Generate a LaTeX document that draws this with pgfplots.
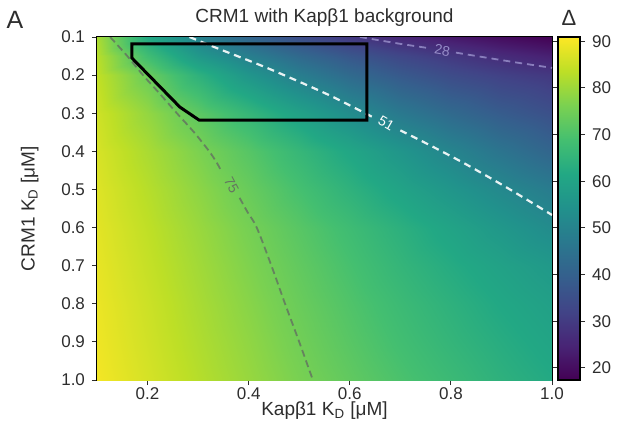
\documentclass[border=0pt]{standalone}
\usepackage{fontspec}
\setmainfont{Liberation Sans}
\usepackage{pgfplots}
\pgfplotsset{compat=1.18}
\pgfplotsset{/pgf/number format/assume math mode=true}
\definecolor{txt}{RGB}{45,45,45}
\definecolor{c75}{RGB}{100,118,96}
\definecolor{c28}{RGB}{150,140,200}
\begin{document}
\begin{tikzpicture}
\useasboundingbox (-48.5pt,-27pt) rectangle (264.5pt,190pt);
\begin{axis}[
  at={(0pt,0pt)}, anchor=south west,
  scale only axis, width=227.5pt, height=171.5pt,
  xmin=0.1, xmax=1.0, ymin=0.1, ymax=1.0,
  y dir=reverse,
  axis line style={black, line width=0.6pt},
  xtick={0.2,0.4,0.6,0.8,1.0},
  ytick={0.1,0.2,0.3,0.4,0.5,0.6,0.7,0.8,0.9,1.0},
  xtick pos=bottom, ytick pos=left,
  tick align=outside, major tick length=2.5pt,
  tick style={txt, line width=0.5pt},
  xticklabel shift=-2pt,
  xticklabel style={font=\fontsize{8.5}{10}\selectfont, text=txt, /pgf/number format/.cd, fixed, fixed zerofill, precision=1},
  yticklabel style={font=\fontsize{8.5}{10}\selectfont, text=txt, /pgf/number format/.cd, fixed, fixed zerofill, precision=1},
  xlabel={Kapβ1 K\textsubscript{D} [μM]},
  ylabel={CRM1 K\textsubscript{D} [μM]},
  label style={font=\fontsize{9.5}{11}\selectfont, text=txt},
  xlabel style={yshift=6pt},
  ylabel style={yshift=4.5pt},
  title={CRM1 with Kapβ1 background},
  title style={font=\fontsize{9.5}{11}\selectfont, text=txt, yshift=-4pt},
  colormap={myviridis}{rgb255=(68,1,84) rgb255=(72,36,117) rgb255=(65,68,135) rgb255=(53,95,141) rgb255=(42,120,142) rgb255=(33,145,140) rgb255=(34,168,132) rgb255=(68,191,112) rgb255=(122,209,81) rgb255=(189,223,38) rgb255=(253,231,37)},
  point meta min=17.4, point meta max=90.9,
  colorbar,
  colorbar style={
    at={(parent axis.north east)}, anchor=north west, xshift=-5.5pt,
    scale only axis, width=11pt, height=171.5pt,
    ytick={20,30,40,50,60,70,80,90},
    yticklabel style={font=\fontsize{8.5}{10}\selectfont, text=txt},
    tick align=outside, major tick length=2.5pt,
    tick style={txt, line width=0.5pt},
    axis line style={black, line width=0.6pt},
    title={Δ}, title style={font=\fontsize{11}{12}\selectfont, text=txt, yshift=-4pt},
  },
]
\addplot[surf, shader=interp, mesh/cols=10, point meta=\thisrow{z}] table[x=x, y=y] {
x y z
0.1 0.1 81.5
0.2 0.1 61.5
0.3 0.1 49.7
0.4 0.1 41.3
0.5 0.1 34.8
0.6 0.1 29.5
0.7 0.1 25.5
0.8 0.1 22.5
0.9 0.1 19.8
1.0 0.1 17.5
0.1 0.15 83.0
0.2 0.15 68.0
0.3 0.15 56.5
0.4 0.15 48.8
0.5 0.15 42.5
0.6 0.15 37.2
0.7 0.15 33.0
0.8 0.15 29.5
0.9 0.15 26.5
1.0 0.15 24.0
0.1 0.2 84.0
0.2 0.2 74.1
0.3 0.2 64.3
0.4 0.2 55.5
0.5 0.2 48.5
0.6 0.2 42.7
0.7 0.2 38.0
0.8 0.2 34.2
0.9 0.2 31.5
1.0 0.2 29.4
0.1 0.3 85.5
0.2 0.3 78.9
0.3 0.3 72.3
0.4 0.3 65.8
0.5 0.3 59.3
0.6 0.3 52.8
0.7 0.3 47.0
0.8 0.3 42.5
0.9 0.3 38.6
1.0 0.3 35.3
0.1 0.4 86.5
0.2 0.4 81.4
0.3 0.4 76.4
0.4 0.4 71.3
0.5 0.4 66.0
0.6 0.4 60.8
0.7 0.4 55.6
0.8 0.4 50.4
0.9 0.4 45.6
1.0 0.4 41.2
0.1 0.5 87.3
0.2 0.5 82.8
0.3 0.5 78.3
0.4 0.5 73.7
0.5 0.5 69.0
0.6 0.5 64.4
0.7 0.5 59.9
0.8 0.5 55.6
0.9 0.5 51.6
1.0 0.5 47.8
0.1 0.6 87.9
0.2 0.6 83.8
0.3 0.6 79.7
0.4 0.6 75.6
0.5 0.6 71.6
0.6 0.6 67.7
0.7 0.6 63.9
0.8 0.6 60.0
0.9 0.6 56.2
1.0 0.6 52.5
0.1 0.7 88.4
0.2 0.7 84.5
0.3 0.7 80.6
0.4 0.7 76.7
0.5 0.7 72.9
0.6 0.7 69.2
0.7 0.7 65.6
0.8 0.7 62.4
0.9 0.7 59.4
1.0 0.7 56.6
0.1 0.8 88.9
0.2 0.8 85.2
0.3 0.8 81.4
0.4 0.8 77.7
0.5 0.8 74.0
0.6 0.8 70.5
0.7 0.8 67.2
0.8 0.8 64.2
0.9 0.8 61.3
1.0 0.8 58.8
0.1 0.9 89.3
0.2 0.9 85.7
0.3 0.9 82.1
0.4 0.9 78.6
0.5 0.9 75.0
0.6 0.9 71.6
0.7 0.9 68.4
0.8 0.9 65.5
0.9 0.9 62.8
1.0 0.9 60.3
0.1 1.0 89.8
0.2 1.0 86.3
0.3 1.0 82.8
0.4 1.0 79.4
0.5 1.0 76.0
0.6 1.0 72.8
0.7 1.0 69.8
0.8 1.0 67.0
0.9 1.0 64.2
1.0 1.0 61.8
};
% contour 75
\addplot[c75, opacity=0.85, line width=0.9pt, dash pattern=on 3.5pt off 2pt, smooth, tension=0.5] coordinates {
(0.126,0.1) (0.160,0.15) (0.191,0.2) (0.225,0.25) (0.258,0.3) (0.292,0.35) (0.322,0.4) (0.337,0.43) (0.346,0.452)};
\addplot[c75, opacity=0.85, line width=0.9pt, dash pattern=on 3.5pt off 2pt, smooth, tension=0.5] coordinates {
(0.382,0.522) (0.398,0.56) (0.416,0.6) (0.445,0.7) (0.472,0.8) (0.500,0.9) (0.527,1.0)};
% contour 51
\addplot[white, opacity=0.9, line width=1.1pt, dash pattern=on 3.5pt off 2.5pt, smooth, tension=0.5] coordinates {
(0.283,0.1) (0.335,0.128) (0.412,0.168) (0.470,0.2) (0.560,0.253) (0.645,0.31)};
\addplot[white, opacity=0.9, line width=1.1pt, dash pattern=on 3.5pt off 2.5pt, smooth, tension=0.5] coordinates {
(0.700,0.345) (0.760,0.385) (0.830,0.434) (0.913,0.497) (1.0,0.567)};
% contour 28
\addplot[c28, opacity=0.85, line width=0.9pt, dash pattern=on 3.5pt off 2.5pt] coordinates {
(0.62,0.1) (0.70,0.118) (0.755,0.129)};
\addplot[c28, opacity=0.85, line width=0.9pt, dash pattern=on 3.5pt off 2.5pt] coordinates {
(0.81,0.141) (0.86,0.152) (0.93,0.167) (1.0,0.181)};
% region
\addplot[black, line width=1.5pt] coordinates {
(0.169,0.118) (0.169,0.155) (0.264,0.284) (0.302,0.318) (0.634,0.318) (0.634,0.118)} -- cycle;
\node[rotate=-62, text=c75, font=\fontsize{7}{8}\selectfont] at (axis cs:0.366,0.488) {75};
\node[rotate=-30, text=white, font=\fontsize{7}{8}\selectfont] at (axis cs:0.672,0.326) {51};
\node[rotate=-10, text=c28, font=\fontsize{7}{8}\selectfont] at (axis cs:0.783,0.135) {28};
\end{axis}
\node[font=\fontsize{12.5}{14}\selectfont, text=txt] at (-41pt,180pt) {A};
\end{tikzpicture}
\end{document}
